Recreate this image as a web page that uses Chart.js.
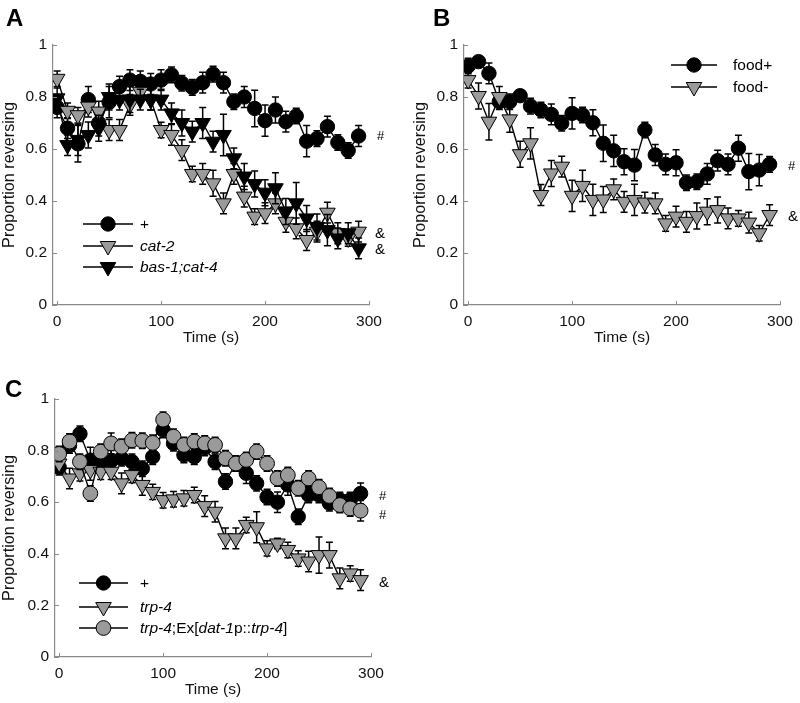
<!DOCTYPE html>
<html><head><meta charset="utf-8">
<script src="https://cdn.jsdelivr.net/npm/chart.js@4.4.1/dist/chart.umd.min.js"></script>
<style>
html,body{margin:0;padding:0;background:#fff;}
#wrap{position:relative;width:800px;height:703px;overflow:hidden;background:#fff;}
canvas{position:absolute;}
</style></head><body>
<div id="wrap">
<canvas id="cA" width="400" height="350" style="left:0;top:0"></canvas>
<canvas id="cB" width="400" height="350" style="left:400px;top:0"></canvas>
<canvas id="cC" width="400" height="353" style="left:0;top:350px"></canvas>
</div>
<script>
// ---------- shared axes ----------
const times = [0,10,20,30,40,50,60,70,80,90,100,110,120,130,140,150,160,170,180,190,200,210,220,230,240,250,260,270,280,290];
const xTicks = [0,100,200,300];
const xTickLabels = ['0','100','200','300'];
const yTicks = [0,0.2,0.4,0.6,0.8,1];
const yTickLabels = ['0','0.2','0.4','0.6','0.8','1'];
const xTitle = 'Time (s)';
const yTitle = 'Proportion reversing';

// ---------- panel A ----------
const aWild    = [0.76,0.68,0.62,0.79,0.70,0.78,0.84,0.865,0.86,0.85,0.865,0.885,0.853,0.837,0.855,0.888,0.855,0.782,0.80,0.756,0.709,0.75,0.705,0.727,0.63,0.64,0.686,0.625,0.594,0.65];
const aWildErr = [0.04,0.04,0.07,0.05,0.05,0.06,0.04,0.04,0.04,0.04,0.04,0.03,0.03,0.03,0.04,0.03,0.04,0.03,0.04,0.07,0.06,0.05,0.04,0.03,0.06,0.03,0.04,0.03,0.03,0.04];
const aCat2    = [0.87,0.747,0.73,0.763,0.744,0.673,0.673,0.77,0.82,0.79,0.673,0.654,0.596,0.504,0.504,0.468,0.391,0.504,0.417,0.34,0.353,0.391,0.32,0.295,0.25,0.282,0.355,0.276,0.256,0.282];
const aCat2Err = [0.03,0.03,0.03,0.04,0.04,0.04,0.04,0.04,0.04,0.04,0.03,0.04,0.04,0.03,0.04,0.05,0.04,0.04,0.04,0.03,0.04,0.04,0.04,0.04,0.04,0.04,0.04,0.04,0.03,0.04];
const aBas     = [0.795,0.615,0.635,0.654,0.68,0.80,0.79,0.79,0.79,0.79,0.79,0.737,0.70,0.667,0.70,0.628,0.654,0.564,0.494,0.465,0.432,0.449,0.36,0.391,0.333,0.30,0.288,0.256,0.276,0.218];
const aBasErr  = [0.04,0.04,0.06,0.05,0.05,0.05,0.04,0.05,0.04,0.04,0.04,0.04,0.05,0.04,0.06,0.04,0.08,0.04,0.05,0.05,0.05,0.06,0.05,0.08,0.05,0.05,0.06,0.04,0.04,0.04];

// ---------- panel B ----------
const bFoodP    = [0.919,0.936,0.891,0.782,0.782,0.805,0.765,0.75,0.733,0.699,0.737,0.731,0.701,0.622,0.593,0.551,0.538,0.673,0.577,0.541,0.547,0.47,0.474,0.504,0.555,0.541,0.603,0.513,0.519,0.541];
const bFoodPErr = [0.03,0.02,0.04,0.03,0.03,0.02,0.03,0.03,0.04,0.03,0.06,0.03,0.05,0.07,0.06,0.05,0.06,0.03,0.04,0.04,0.05,0.03,0.03,0.04,0.04,0.04,0.05,0.07,0.06,0.03];
const bFoodM    = [0.865,0.804,0.705,0.80,0.714,0.58,0.622,0.423,0.506,0.532,0.42,0.458,0.404,0.406,0.445,0.397,0.404,0.394,0.391,0.314,0.34,0.32,0.342,0.359,0.365,0.333,0.333,0.317,0.276,0.346];
const bFoodMErr = [0.03,0.05,0.07,0.04,0.05,0.05,0.06,0.04,0.05,0.04,0.06,0.06,0.06,0.05,0.04,0.04,0.06,0.04,0.04,0.03,0.04,0.04,0.05,0.05,0.05,0.04,0.03,0.04,0.03,0.04];

// ---------- panel C ----------
const cWild    = [0.735,0.82,0.865,0.763,0.757,0.76,0.77,0.757,0.73,0.776,0.88,0.828,0.783,0.776,0.81,0.757,0.68,0.75,0.712,0.673,0.62,0.60,0.667,0.544,0.628,0.628,0.596,0.609,0.609,0.634];
const cWildErr = [0.03,0.03,0.03,0.05,0.04,0.04,0.03,0.03,0.03,0.03,0.03,0.03,0.03,0.03,0.03,0.03,0.03,0.03,0.04,0.03,0.03,0.04,0.04,0.03,0.03,0.03,0.03,0.03,0.03,0.04];
const cTrp4    = [0.75,0.692,0.712,0.725,0.718,0.718,0.673,0.705,0.667,0.64,0.608,0.611,0.615,0.628,0.585,0.563,0.46,0.46,0.512,0.503,0.421,0.44,0.415,0.382,0.37,0.395,0.395,0.305,0.324,0.298];
const cTrp4Err = [0.03,0.04,0.03,0.04,0.03,0.03,0.04,0.03,0.04,0.03,0.03,0.03,0.03,0.03,0.04,0.04,0.04,0.04,0.03,0.06,0.03,0.02,0.03,0.03,0.04,0.07,0.05,0.04,0.03,0.04];
const cRescue    = [0.787,0.835,0.757,0.634,0.796,0.828,0.815,0.84,0.838,0.83,0.92,0.854,0.822,0.835,0.828,0.822,0.77,0.75,0.764,0.796,0.75,0.692,0.705,0.654,0.692,0.658,0.624,0.589,0.576,0.567];
const cRescueErr = [0.03,0.03,0.03,0.03,0.03,0.04,0.03,0.03,0.03,0.03,0.03,0.03,0.03,0.03,0.03,0.03,0.03,0.03,0.03,0.03,0.03,0.03,0.03,0.03,0.03,0.03,0.03,0.03,0.03,0.04];

// ---------- styling ----------
const FONT = "'Liberation Sans', Arial, sans-serif";
const AXIS = '#8a8a8a';
const GRAY = '#9a9a9a';
const styles = {
  blackCircle: {shape:'circle', fill:'#000', r:7.2},
  grayCircle:  {shape:'circle', fill:GRAY, r:7.4},
  grayTri:     {shape:'tri', fill:GRAY, r:9},
  blackTri:    {shape:'tri', fill:'#000', r:9}
};

function drawMarker(ctx, st, x, y){
  ctx.save();
  ctx.fillStyle = st.fill; ctx.strokeStyle = '#000'; ctx.lineWidth = 1;
  ctx.beginPath();
  if (st.shape === 'circle') {
    ctx.arc(x, y, st.r, 0, Math.PI*2);
  } else {
    const r = st.r;
    ctx.moveTo(x - r*0.866, y - r*0.5);
    ctx.lineTo(x + r*0.866, y - r*0.5);
    ctx.lineTo(x, y + r);
    ctx.closePath();
  }
  ctx.fill(); ctx.stroke();
  ctx.restore();
}

function makeDataset(label, vals, errs, st, order){
  return {
    label: label,
    data: times.map((t,i)=>({x:t, y:vals[i]})),
    errors: errs,
    borderColor:'#000', borderWidth:1.4,
    pointStyle: st.shape === 'circle' ? 'circle' : 'triangle',
    pointRotation: st.shape === 'circle' ? 0 : 180,
    pointRadius: st.r, pointHoverRadius: st.r,
    pointBackgroundColor: st.fill, pointBorderColor:'#000', pointBorderWidth:1,
    backgroundColor: st.fill,
    tension:0, fill:false, order: order
  };
}

const errorBarPlugin = {
  id:'errorBars',
  beforeDatasetDraw(chart, args){
    const ds = chart.data.datasets[args.index];
    if (!ds.errors) return;
    const xs = chart.scales.x, ys = chart.scales.y, ctx = chart.ctx;
    ctx.save();
    ctx.strokeStyle = '#000'; ctx.lineWidth = 1.5;
    ds.data.forEach((p,i)=>{
      const e = ds.errors[i];
      const px = xs.getPixelForValue(p.x);
      const y1 = ys.getPixelForValue(p.y + e), y2 = ys.getPixelForValue(p.y - e);
      ctx.beginPath();
      ctx.moveTo(px, y1); ctx.lineTo(px, y2);
      ctx.moveTo(px-3.5, y1); ctx.lineTo(px+3.5, y1);
      ctx.moveTo(px-3.5, y2); ctx.lineTo(px+3.5, y2);
      ctx.stroke();
    });
    ctx.restore();
  }
};

const decorPlugin = {
  id:'decor',
  afterDraw(chart){
    const o = chart.options.plugins.decor;
    const ctx = chart.ctx, xs = chart.scales.x, ys = chart.scales.y;
    ctx.save();
    // inward ticks
    ctx.strokeStyle = AXIS; ctx.lineWidth = 1;
    const ca = chart.chartArea;
    xTicks.forEach(v=>{
      const px = Math.round(xs.getPixelForValue(v))+0.5;
      ctx.beginPath(); ctx.moveTo(px, ca.bottom); ctx.lineTo(px, ca.bottom-4); ctx.stroke();
    });
    yTicks.forEach(v=>{
      const py = Math.round(ys.getPixelForValue(v))+0.5;
      ctx.beginPath(); ctx.moveTo(ca.left, py); ctx.lineTo(ca.left+4, py); ctx.stroke();
    });
    // panel letter
    ctx.fillStyle = '#000';
    ctx.font = "bold 24px " + FONT;
    ctx.textBaseline = 'middle'; ctx.textAlign = 'left';
    ctx.fillText(o.letter, o.letterX, o.letterY);
    // significance marks beside last points
    o.marks.forEach(m=>{
      const ds = chart.data.datasets[m.ds];
      const last = ds.data[ds.data.length-1];
      ctx.font = (m.size||14) + "px " + FONT;
      ctx.fillText(m.text, xs.getPixelForValue(300) + m.dx, ys.getPixelForValue(last.y) + (m.dy||0));
    });
    // legend
    o.legend.forEach(it=>{
      ctx.strokeStyle = '#000'; ctx.lineWidth = 1.4;
      ctx.beginPath(); ctx.moveTo(it.x0, it.y); ctx.lineTo(it.x1, it.y); ctx.stroke();
      drawMarker(ctx, it.style, (it.x0+it.x1)/2, it.y);
      let tx = it.tx;
      ctx.fillStyle = '#000';
      it.segs.forEach(s=>{
        ctx.font = (s[1] ? 'italic ' : '') + "15.5px " + FONT;
        ctx.fillText(s[0], tx, it.y + 1);
        tx += ctx.measureText(s[0]).width;
      });
    });
    ctx.restore();
  }
};

function makeChart(id, datasets, geo, decor){
  new Chart(document.getElementById(id), {
    type:'line',
    data:{datasets: datasets},
    options:{
      responsive:false, animation:false, devicePixelRatio:1,
      layout:{padding:{left:geo.pl, top:geo.pt, right:geo.pr, bottom:0}},
      plugins:{legend:{display:false}, tooltip:{enabled:false}, decor: decor},
      scales:{
        x:{type:'linear', min:-4, max:300,
           afterBuildTicks(ax){ ax.ticks = xTicks.map(v=>({value:v})); },
           afterFit(ax){ ax.height = geo.xh; },
           grid:{display:false, drawTicks:false},
           border:{display:true, color:AXIS, width:1.2},
           ticks:{padding:7, color:'#111', font:{family:FONT, size:15.5},
                  callback:(v)=>{const i = xTicks.indexOf(v); return i>=0 ? xTickLabels[i] : '';}},
           title:{display:true, text:xTitle, color:'#111', font:{family:FONT, size:15.5}, padding:{top:0,bottom:geo.xtb}}
        },
        y:{type:'linear', min:0, max:1,
           afterBuildTicks(ax){ ax.ticks = yTicks.map(v=>({value:v})); },
           afterFit(ax){ ax.width = geo.yw; },
           grid:{display:false, drawTicks:false},
           border:{display:true, color:AXIS, width:1.2},
           ticks:{padding:6, color:'#111', font:{family:FONT, size:15.5},
                  callback:(v)=>{const i = yTicks.findIndex(t=>Math.abs(t-v)<1e-9); return i>=0 ? yTickLabels[i] : '';}},
           title:{display:true, text:yTitle, color:'#111', font:{family:FONT, size:16.2}, padding:{top:0,bottom:0}}
        }
      }
    },
    plugins:[errorBarPlugin, decorPlugin]
  });
}

// Panel A
makeChart('cA', [
  makeDataset('+', aWild, aWildErr, styles.blackCircle, 3),
  makeDataset('cat-2', aCat2, aCat2Err, styles.grayTri, 2),
  makeDataset('bas-1;cat-4', aBas, aBasErr, styles.blackTri, 1)
], {pl:0, pt:45, pr:31, yw:53, xh:45, xtb:3}, {
  letter:'A', letterX:6, letterY:19,
  marks:[{ds:0, text:'#', dx:8, size:13, dy:0},{ds:1, text:'&', dx:6, size:15, dy:2},{ds:2, text:'&', dx:6, size:15, dy:2}],
  legend:[
    {style:styles.blackCircle, x0:83, x1:133, y:224, tx:140, segs:[['+',false]]},
    {style:styles.grayTri, x0:83, x1:133, y:246, tx:140, segs:[['cat-2',true]]},
    {style:styles.blackTri, x0:83, x1:133, y:267, tx:140, segs:[['bas-1;cat-4',true]]}
  ]
});

// Panel B
makeChart('cB', [
  makeDataset('food+', bFoodP, bFoodPErr, styles.blackCircle, 2),
  makeDataset('food-', bFoodM, bFoodMErr, styles.grayTri, 1)
], {pl:11, pt:45, pr:20, yw:53, xh:45, xtb:3}, {
  letter:'B', letterX:33, letterY:19,
  marks:[{ds:0, text:'#', dx:8, size:13, dy:2},{ds:1, text:'&', dx:8, size:15, dy:2}],
  legend:[
    {style:styles.blackCircle, x0:271, x1:317, y:65, tx:333, segs:[['food+',false]]},
    {style:styles.grayTri, x0:271, x1:317, y:87, tx:333, segs:[['food-',false]]}
  ]
});

// Panel C
makeChart('cC', [
  makeDataset('+', cWild, cWildErr, styles.blackCircle, 3),
  makeDataset('trp-4', cTrp4, cTrp4Err, styles.grayTri, 2),
  makeDataset('trp-4;Ex[dat-1p::trp-4]', cRescue, cRescueErr, styles.grayCircle, 1)
], {pl:0, pt:49, pr:29, yw:55, xh:46, xtb:4}, {
  letter:'C', letterX:5, letterY:40,
  marks:[{ds:0, text:'#', dx:8, size:13, dy:3},{ds:2, text:'#', dx:8, size:13, dy:5},{ds:1, text:'&', dx:8, size:15, dy:3}],
  legend:[
    {style:styles.blackCircle, x0:79, x1:128, y:233, tx:140, segs:[['+',false]]},
    {style:styles.grayTri, x0:79, x1:128, y:257, tx:140, segs:[['trp-4',true]]},
    {style:styles.grayCircle, x0:79, x1:128, y:278, tx:140, segs:[['trp-4',true],[';Ex[',false],['dat-1',true],['p::',false],['trp-4',true],[']',false]]}
  ]
});
</script>
</body></html>
